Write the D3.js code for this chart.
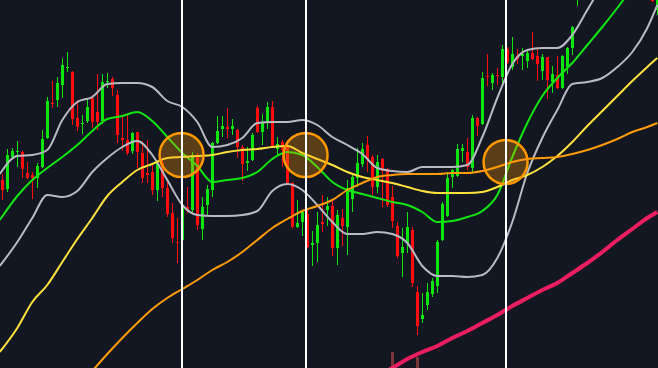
<!DOCTYPE html>
<html>
<head>
    <meta charset="utf-8">
    <title>Candles with bands and averages</title>
    <style type="text/css">
    body { margin: 0; background: #131722; }
    svg { display: block; }
    </style>
</head>
<body>
  <script src="https://cdn.jsdelivr.net/npm/d3@7/dist/d3.min.js"></script>
  <script>

    // candles (price units)
    var open = [
      82.0, 81.1, 84.3, 84.8, 84.8, 82.7, 82.5, 82.2, 83.3, 86.2,
      89.7, 90.0, 91.5, 93.2, 92.8, 88.2, 87.6, 87.9, 90.2, 88.8,
      87.9, 91.8, 92.1, 90.5, 86.2, 86.0, 84.9, 86.8, 84.7, 82.7,
      82.8, 81.0, 83.7, 81.2, 78.7, 75.8, 76.0, 79.3, 79.0, 84.5,
      77.1, 79.5, 81.0, 85.7, 87.1, 87.3, 87.1, 87.0, 85.3, 83.7,
      84.0, 89.2, 86.8, 87.7, 89.3, 85.1, 85.8, 85.3, 81.7, 77.3,
      77.8, 78.6, 75.5, 75.7, 77.8, 79.0, 79.4, 75.2, 78.2, 77.3,
      80.1, 82.2, 83.6, 85.5, 84.3, 81.3, 84.1, 83.1, 80.3, 77.4,
      74.7, 75.7, 77.0, 70.8, 68.1, 69.5, 70.6, 71.4, 76.0, 78.4,
      82.3, 82.4, 84.9, 84.8, 83.2, 88.2, 87.6, 92.4, 91.7, 92.5,
      92.3, 95.1, 93.3, 94.4, 94.4, 93.9, 94.7, 94.4, 92.9, 94.3,
      91.8, 92.5, 91.2, 93.3, 95.2, 100.2, 101.8, 103.5, 102.8, 104.8,
      106.0, 105.0, 107.0, 108.2, 107.2, 106.0, 107.5, 106.2, 104.5, 105.5,
      102.5, 99.0
    ];
    var high = [
      82.6, 85.1, 85.2, 85.9, 84.9, 83.8, 82.8, 83.7, 87.0, 90.3,
      91.9, 92.3, 94.2, 94.8, 92.9, 90.0, 88.5, 90.2, 90.5, 92.6,
      92.6, 92.7, 92.3, 91.0, 88.5, 88.5, 86.8, 86.8, 85.9, 86.0,
      83.7, 83.8, 84.2, 82.0, 79.7, 78.2, 81.7, 81.3, 84.8, 84.7,
      80.3, 81.5, 85.8, 88.4, 88.4, 89.2, 88.1, 87.1, 85.5, 85.3,
      86.7, 89.4, 88.6, 89.8, 89.9, 86.3, 86.0, 86.0, 81.8, 80.0,
      78.9, 79.0, 76.9, 78.8, 80.5, 80.3, 80.0, 79.0, 79.1, 82.0,
      82.7, 85.2, 85.7, 86.4, 84.5, 84.5, 84.2, 83.2, 81.4, 77.8,
      77.2, 78.8, 77.3, 71.4, 70.7, 71.7, 72.2, 76.0, 79.8, 82.8,
      83.1, 85.6, 85.6, 86.2, 88.5, 88.3, 92.8, 94.6, 92.7, 93.2,
      95.5, 95.3, 96.3, 95.1, 95.2, 94.9, 96.8, 95.3, 94.6, 94.3,
      93.4, 94.4, 94.5, 95.3, 97.4, 102.4, 104.0, 104.2, 105.2, 106.6,
      106.4, 107.5, 108.8, 108.6, 107.5, 108.0, 107.8, 106.6, 106.0, 105.8,
      103.0, 101.4
    ];
    var low = [
      80.0, 80.8, 84.2, 83.3, 82.2, 82.1, 80.1, 81.2, 83.2, 86.1,
      89.2, 89.3, 90.2, 92.8, 87.5, 86.9, 86.6, 87.7, 87.2, 87.0,
      87.6, 91.2, 90.4, 85.7, 84.9, 84.5, 84.6, 83.2, 81.7, 81.7,
      80.5, 79.9, 80.3, 78.3, 75.7, 73.7, 75.8, 78.7, 78.8, 77.0,
      76.0, 78.5, 80.3, 85.6, 86.3, 86.2, 86.5, 84.2, 81.9, 82.9,
      83.9, 86.7, 85.5, 87.1, 85.2, 84.5, 83.3, 81.5, 77.2, 77.2,
      76.4, 75.2, 73.4, 73.8, 76.8, 77.4, 74.4, 73.5, 75.4, 74.5,
      78.8, 81.3, 83.3, 82.8, 80.5, 80.7, 79.3, 79.3, 77.2, 74.2,
      72.3, 74.7, 71.3, 66.5, 67.7, 69.0, 70.3, 70.7, 75.9, 78.3,
      81.2, 82.3, 83.8, 83.0, 82.7, 86.4, 87.5, 91.4, 91.0, 91.5,
      91.5, 93.6, 93.0, 93.6, 93.0, 93.2, 94.0, 91.9, 92.0, 90.1,
      90.7, 91.1, 91.1, 92.6, 94.5, 99.4, 101.5, 102.4, 102.5, 104.5,
      104.6, 104.8, 106.6, 106.8, 105.5, 105.7, 105.8, 104.0, 104.0, 102.8,
      99.8, 98.5
    ];
    var close = [
      81.0, 84.5, 84.9, 84.9, 83.1, 82.2, 82.2, 83.4, 86.1, 89.9,
      89.6, 91.7, 93.5, 93.3, 88.1, 87.3, 87.7, 89.3, 87.8, 87.8,
      91.8, 91.9, 91.2, 86.5, 86.0, 84.7, 86.7, 84.8, 82.2, 82.5,
      81.0, 83.7, 81.2, 78.6, 76.2, 75.7, 79.5, 78.9, 84.5, 77.5,
      79.3, 81.1, 85.7, 86.9, 87.4, 87.1, 87.4, 85.3, 83.6, 83.9,
      86.5, 86.8, 87.7, 89.3, 85.3, 85.6, 85.0, 81.7, 77.3, 77.7,
      78.8, 75.3, 75.7, 77.5, 77.6, 79.4, 75.2, 78.5, 77.4, 81.2,
      82.3, 83.7, 85.1, 84.1, 81.3, 83.8, 82.9, 79.5, 77.9, 74.4,
      75.3, 77.3, 71.7, 67.4, 68.5, 70.8, 71.9, 75.8, 79.6, 82.2,
      83.0, 85.1, 85.2, 83.3, 88.2, 87.4, 92.2, 92.3, 92.5, 92.4,
      95.1, 93.8, 94.6, 94.1, 94.6, 94.7, 94.1, 93.6, 94.3, 92.0,
      92.6, 91.2, 94.4, 95.2, 97.3, 102.0, 103.5, 102.8, 104.8, 106.0,
      105.0, 107.0, 108.2, 107.2, 106.0, 107.5, 106.2, 104.5, 105.5, 103.5,
      99.9, 101.0
    ];

    // volume bars that reach into view
    var volIdx  = [78, 83];
    var volVals = [2.27e6, 2.1e6];

    // indicator lines, read at every third candle
    var lineIdx = [-0.5, 3, 6, 9, 12, 15, 18, 21, 24, 27, 30, 33, 36, 39, 42, 45, 48, 51, 54, 57,
                   60, 63, 66, 69, 72, 75, 78, 81, 84, 87, 90, 93, 96, 99, 102, 105, 108, 111, 114, 117,
                   120, 123, 126, 129, 131];
    var bbUpper = [82.6, 84.4, 84.5, 85.0, 88.0, 89.8, 90.3, 91.6, 91.7, 91.7, 91.3, 89.9, 89.3, 87.8, 85.3,
                   85.5, 86.2, 87.7, 87.8, 87.8, 88.0, 87.5, 86.3, 85.5, 84.6, 83.2, 82.9, 82.8, 83.3, 83.3,
                   83.3, 83.5, 86.3, 90.2, 93.6, 95.0, 95.2, 95.2, 96.5, 99.0, 101.5, 103.5, 105.5, 107.0, 108.0];
    var bbLower = [73.4, 75.8, 78.2, 80.5, 80.3, 80.9, 82.8, 84.2, 85.3, 85.9, 84.5, 82.0, 79.5, 78.5, 78.4,
                   78.4, 78.5, 78.9, 80.9, 81.6, 81.0, 79.5, 77.8, 76.6, 76.6, 76.8, 76.6, 75.7, 73.4, 72.4,
                   72.4, 72.3, 72.5, 74.2, 77.8, 82.7, 86.2, 89.0, 91.6, 91.8, 92.2, 93.3, 94.8, 97.2, 99.5];
    var bbBasis = [78.0, 80.4, 82.0, 83.2, 84.3, 85.5, 86.9, 88.1, 88.4, 88.8, 87.9, 86.3, 84.7, 83.4, 81.8,
                   82.0, 82.2, 82.8, 84.1, 84.8, 84.5, 83.3, 81.8, 81.0, 80.6, 80.2, 79.8, 79.5, 78.8, 77.8,
                   77.9, 78.3, 78.9, 80.5, 84.3, 87.7, 90.4, 92.2, 93.7, 95.5, 97.3, 99.2, 101.2, 103.0, 104.2];
    var ma50  = [64.8, 67.2, 69.8, 71.5, 73.8, 76.1, 78.2, 80.4, 81.8, 83.0, 83.6, 84.2, 84.3, 84.4, 84.5,
                 84.8, 85.0, 85.1, 85.3, 85.4, 84.7, 84.1, 83.5, 82.8, 82.3, 82.0, 81.7, 81.3, 80.9, 80.7,
                 80.7, 80.7, 80.8, 81.3, 82.0, 82.5, 83.3, 84.4, 85.8, 87.4, 88.9, 90.4, 91.9, 93.3, 94.2];
    var ma100 = [null, null, null, null, null, null,
                 62.9, 64.6, 66.2, 67.7, 69.1, 70.2, 71.1, 72.0, 73.0, 73.8, 74.8, 76.0, 77.2, 78.1,
                 78.9, 79.4, 80.0, 81.0, 81.7, 82.3, 82.5, 82.6, 82.6, 82.6, 82.7, 82.7, 82.9, 83.3,
                 83.8, 84.1, 84.2, 84.3, 84.6, 85.0, 85.5, 86.1, 86.8, 87.3, 87.7];
    var ma200 = [null, null, null, null, null, null, null, null, null, null, null, null, null, null, null,
                 null, null, null, null, null, null, null, null, null, null,
                 62.4, 63.2, 64.1, 64.8, 65.4, 66.2, 66.9, 67.7, 68.5, 69.4, 70.2, 71.0, 71.7, 72.7,
                 73.7, 74.8, 76.0, 77.1, 78.2, 78.8];

    // crossover signals
    var signalIdx   = [35.85, 60.65, 100.65];
    var signalPrice = [84.5, 84.5, 83.8];

    var width = 658, height = 368;

    var svg = d3.select("body")
      .append("svg")
      .attr("width", width)
      .attr("height", height);

    svg.append("rect")
      .attr("width", width)
      .attr("height", height)
      .attr("fill", "#131722");

    var x = d3.scaleLinear().domain([0, 131]).range([2.3, 657.3]);
    var y = d3.scaleLinear().domain([63.2, 100]).range([height, 0]);
    var yVol = d3.scaleLinear().domain([0, 4e6]).range([420, 300]);

    var up = "#0de60d", down = "#ff0d0d";

    //volume
    svg.append("g")
      .attr("shape-rendering", "crispEdges")
      .selectAll("rect")
      .data(volIdx)
      .enter()
      .append("rect")
      .attr("x", function(d){ return x(d) - 1.5; })
      .attr("y", function(d, i){ return yVol(volVals[i]); })
      .attr("width", 3)
      .attr("height", function(d, i){ return yVol(0) - yVol(volVals[i]); })
      .attr("fill", "#7b3538");

    //candles
    var candles = svg.append("g")
      .attr("shape-rendering", "crispEdges")
      .selectAll("g")
      .data(d3.range(open.length))
      .enter()
      .append("g")
      .attr("fill", function(i){ return close[i] >= open[i] ? up : down; });

    candles.append("rect")
      .attr("x", function(i){ return x(i) - 0.5; })
      .attr("y", function(i){ return y(high[i]); })
      .attr("width", 1)
      .attr("height", function(i){ return y(low[i]) - y(high[i]); });

    candles.append("rect")
      .attr("x", function(i){ return x(i) - 1.5; })
      .attr("y", function(i){ return y(Math.max(open[i], close[i])); })
      .attr("width", 3)
      .attr("height", function(i){ return Math.max(1, Math.abs(y(open[i]) - y(close[i]))); });

    //indicator lines
    var line = d3.line()
      .defined(function(d){ return d[1] != null; })
      .x(function(d){ return x(d[0]); })
      .y(function(d){ return y(d[1]); })
      .curve(d3.curveMonotoneX);

    function drawLine(vals, color, w) {
      svg.append("path")
        .datum(lineIdx.map(function(k, i){ return [k, vals[i]]; }))
        .attr("d", line)
        .attr("fill", "none")
        .attr("stroke", color)
        .attr("stroke-width", w)
        .attr("stroke-linejoin", "round");
    }

    drawLine(bbUpper, "#b8bbc4", 2);
    drawLine(bbLower, "#b8bbc4", 2);
    drawLine(bbBasis, "#12e612", 2);
    drawLine(ma50, "#ffe23d", 2);
    drawLine(ma100, "#ff9c0a", 2);
    drawLine(ma200, "#ec1e62", 4);

    //signal circles
    svg.append("g")
      .selectAll("circle")
      .data(signalIdx)
      .enter()
      .append("circle")
      .attr("cx", function(d){ return x(d); })
      .attr("cy", function(d, i){ return y(signalPrice[i]); })
      .attr("r", 22)
      .attr("fill", "rgba(255,152,0,0.3)")
      .attr("stroke", "#ff9800")
      .attr("stroke-width", 2.5);

    //signal verticals
    svg.append("g")
      .attr("shape-rendering", "crispEdges")
      .selectAll("rect")
      .data(signalIdx)
      .enter()
      .append("rect")
      .attr("x", function(d){ return Math.round(x(d)) - 1; })
      .attr("y", 0)
      .attr("width", 2)
      .attr("height", height)
      .attr("fill", "#ffffff");

  </script>
</body>
</html>
